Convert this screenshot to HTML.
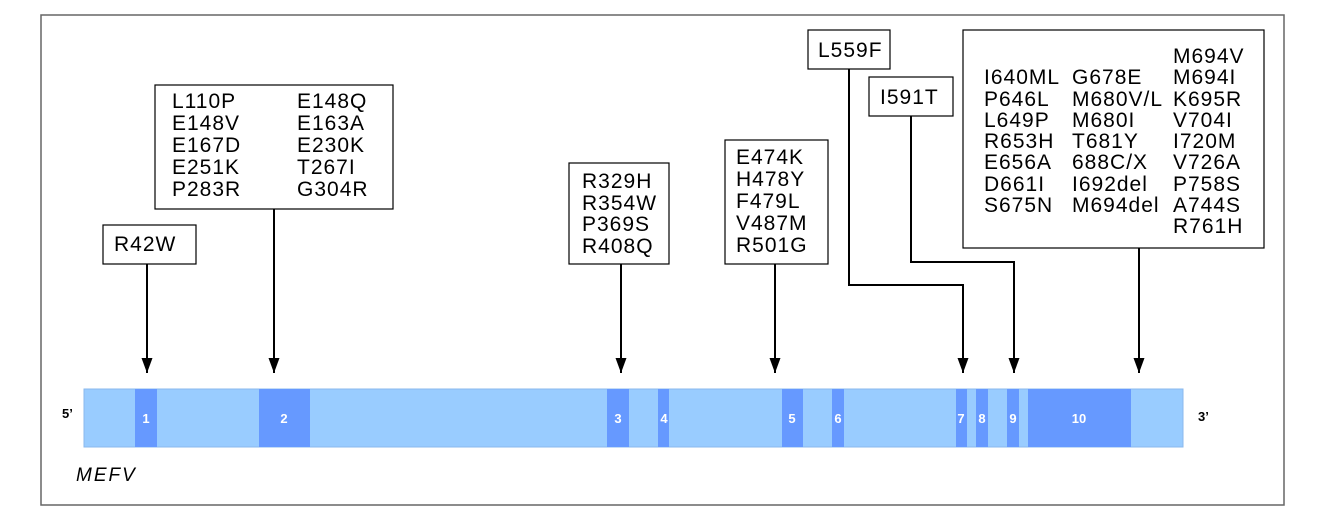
<!DOCTYPE html>
<html><head><meta charset="utf-8"><style>
html,body{margin:0;padding:0;background:#fff;}
svg{display:block;}
text{font-family:"Liberation Sans",Arial,sans-serif;}
</style></head><body>
<svg width="1320" height="523" viewBox="0 0 1320 523" xmlns="http://www.w3.org/2000/svg">
<defs><marker id="a" markerWidth="16" markerHeight="11" refX="15" refY="5.5" orient="auto" markerUnits="userSpaceOnUse"><path d="M0,0 L15,5.5 L0,11 z" fill="#000"/></marker></defs>
<rect x="41" y="15" width="1243" height="490" fill="none" stroke="#666" stroke-width="1.5"/>
<rect x="84" y="389" width="1099" height="58" fill="#99ccff" stroke="#8ab8ee" stroke-width="1"/>
<g fill="#6699ff">
<rect x="135" y="389" width="22" height="58"/>
<rect x="259" y="389" width="51" height="58"/>
<rect x="607" y="389" width="22" height="58"/>
<rect x="658" y="389" width="11" height="58"/>
<rect x="782" y="389" width="21" height="58"/>
<rect x="832" y="389" width="12" height="58"/>
<rect x="956" y="389" width="11" height="58"/>
<rect x="976" y="389" width="12" height="58"/>
<rect x="1007" y="389" width="12" height="58"/>
<rect x="1028" y="389" width="103" height="58"/>
</g>
<g fill="#fff" font-size="13" font-weight="bold" text-anchor="middle">
<text x="146" y="423">1</text><text x="284" y="423">2</text><text x="618" y="423">3</text><text x="664" y="423">4</text>
<text x="792" y="423">5</text><text x="838" y="423">6</text><text x="961" y="423">7</text><text x="982" y="423">8</text>
<text x="1013" y="423">9</text><text x="1079" y="423">10</text>
</g>
<text x="62" y="418" font-family="Liberation Serif,serif" font-size="13" font-weight="bold">5’</text>
<text x="1198" y="421" font-family="Liberation Serif,serif" font-size="13" font-weight="bold">3’</text>
<text x="76" y="481" font-size="19" font-style="italic" letter-spacing="2">MEFV</text>
<g fill="#fff" stroke="#000" stroke-width="1.2">
<rect x="103" y="225" width="93" height="39"/>
<rect x="155" y="85" width="238" height="124"/>
<rect x="569" y="163" width="100" height="101"/>
<rect x="725" y="140" width="103" height="124"/>
<rect x="808" y="30" width="82" height="39"/>
<rect x="869" y="77" width="84" height="39"/>
<rect x="963" y="30" width="301" height="218"/>
</g>
<g font-size="21" fill="#000" letter-spacing="1">
<text x="114" y="251">R42W</text>
<text x="172" y="108">L110P</text><text x="172" y="130">E148V</text><text x="172" y="152">E167D</text><text x="172" y="174">E251K</text><text x="172" y="196">P283R</text>
<text x="297" y="108">E148Q</text><text x="297" y="130">E163A</text><text x="297" y="152">E230K</text><text x="297" y="174">T267I</text><text x="297" y="196">G304R</text>
<text x="582" y="188">R329H</text><text x="582" y="210">R354W</text><text x="582" y="231">P369S</text><text x="582" y="253">R408Q</text>
<text x="736" y="164">E474K</text><text x="736" y="186">H478Y</text><text x="736" y="208">F479L</text><text x="736" y="230">V487M</text><text x="736" y="252">R501G</text>
<text x="818" y="57">L559F</text>
<text x="880" y="104">I591T</text>
<text x="984" y="84">I640ML</text><text x="984" y="106">P646L</text><text x="984" y="127">L649P</text><text x="984" y="148">R653H</text><text x="984" y="169">E656A</text><text x="984" y="191">D661I</text><text x="984" y="212">S675N</text>
<text x="1072" y="84">G678E</text><text x="1072" y="106">M680V/L</text><text x="1072" y="127">M680I</text><text x="1072" y="148">T681Y</text><text x="1072" y="169">688C/X</text><text x="1072" y="191">I692del</text><text x="1072" y="212">M694del</text>
<text x="1173" y="63">M694V</text><text x="1173" y="84">M694I</text><text x="1173" y="106">K695R</text><text x="1173" y="127">V704I</text><text x="1173" y="148">I720M</text><text x="1173" y="169">V726A</text><text x="1173" y="191">P758S</text><text x="1173" y="212">A744S</text><text x="1173" y="233">R761H</text>
</g>
<g stroke="#000" stroke-width="2" fill="none" marker-end="url(#a)">
<path d="M147,264 V373"/>
<path d="M274,209 V373"/>
<path d="M621,264 V373"/>
<path d="M775,264 V373"/>
<path d="M849,69 V285 H963 V373"/>
<path d="M911,116 V262 H1014 V373"/>
<path d="M1139,248 V373"/>
</g>
</svg>
</body></html>
